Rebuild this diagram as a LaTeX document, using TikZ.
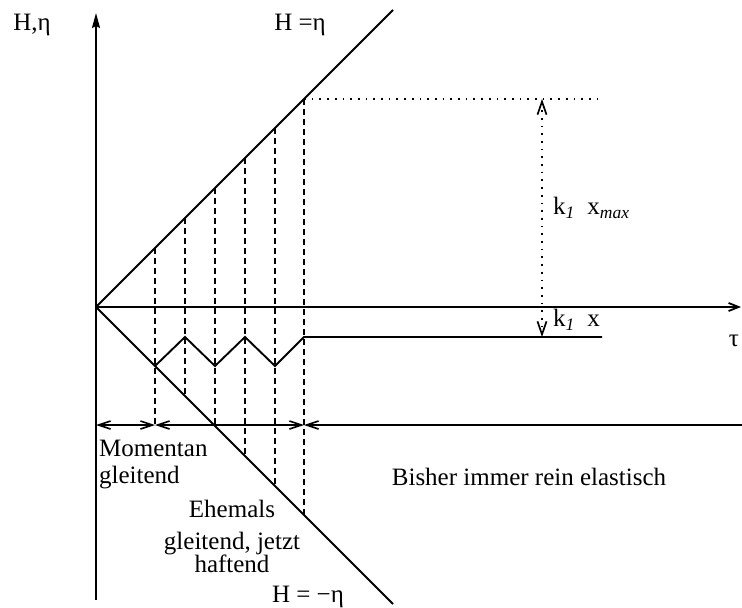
\documentclass[tikz,border=0pt]{standalone}
\usepackage{fontspec}
\setmainfont{Liberation Serif}
\usetikzlibrary{arrows.meta}
\tikzset{
  axis/.style={
    line width=1.8pt
  },
  limit/.style={
    line width=1.9pt
  },
  bound/.style={
    line width=1.7pt,
    dash pattern=on 6pt off 4pt
  },
  guide/.style={
    line width=1.7pt,
    dash pattern=on 1.7pt off 6pt
  },
  barb/.style={
    line width=1.6pt
  },
  txt/.style={
    font=\fontsize{25}{27}\selectfont,
    inner sep=0pt
  }
}

\begin{document}
\begin{tikzpicture}[x=1pt,y=1pt]
\useasboundingbox (-96,-301) rectangle (646,307);

\coordinate (O) at (0,0);
\coordinate (ytop) at (0,294);
\coordinate (ybot) at (0,-293);
\coordinate (xend) at (645,0);
\coordinate (up) at (297,297);
\coordinate (lo) at (297,-297);

% axes
\draw[axis] (ybot) -- (O);
\draw[axis,-{Stealth[length=15pt,width=8pt,inset=2pt]}] (O) -- (ytop);
\draw[axis,-{Straight Barb[length=10pt,width=8pt]}] (O) -- (xend);

% H = eta, H = -eta
\draw[limit] (O) -- (up);
\draw[limit] (O) -- (lo);

% switching instants
\draw[bound] (59,59) -- (59,-118);
\draw[bound] (89,89) -- (89,-89);
\draw[bound] (119,119) -- (119,-119);
\draw[bound] (149,149) -- (149,-149);
\draw[bound] (179,179) -- (179,-179);
\draw[bound] (208,208) -- (208,-208);

% hysteresis state
\coordinate (z0) at (59,-59);
\coordinate (z5) at (208,-30);
\coordinate (zend) at (506,-30);
\draw[limit] (z0) -- (89,-30) -- (119,-59) -- (149,-30) -- (179,-59) -- (z5) -- (zend);

% maximum
\coordinate (m0) at (208,208);
\coordinate (m1) at (501,208);
\coordinate (ktop) at (446,208);
\coordinate (kbot) at (446,-30);
\draw[guide] (m0) -- (m1);
\draw[guide,{Straight Barb[length=13pt,width=9pt]}-{Straight Barb[length=13pt,width=9pt]}] (ktop) -- (kbot);

% regions
\coordinate (d0) at (0,-118);
\coordinate (d1) at (59,-118);
\coordinate (d2) at (208,-118);
\coordinate (d3) at (646,-118);
\draw[barb,{Straight Barb[length=12pt,width=8pt]}-{Straight Barb[length=12pt,width=8pt]}] (d0) -- (d1);
\draw[barb,{Straight Barb[length=12pt,width=8pt]}-{Straight Barb[length=12pt,width=8pt]}] (d1) -- (d2);
\draw[barb,{Straight Barb[length=12pt,width=8pt]}-] (d2) -- (d3);

% labels
\node[txt] (yl) at (-64,282) {H,η};
\node[txt] (hp) at (204,282) {H =η};
\node[txt] (hm) at (212,-290) {H = −η};
\node[txt] (tau) at (638,-34) {τ};
\node[txt,anchor=west] (kmax) at (457,99) {k\textsubscript{\itshape 1}\ \ x\textsubscript{\itshape max}};
\node[txt,anchor=west] (kx) at (457,-13) {k\textsubscript{\itshape 1}\ \ x};
\node[txt,anchor=west,align=left] (mom) at (3,-158) {Momentan\\gleitend};
\node[txt,align=center] (ehe) at (136,-229) {Ehemals\\[5pt]gleitend, jetzt\\[-4pt]haftend};
\node[txt] (bis) at (433,-170) {Bisher immer rein elastisch};

\end{tikzpicture}
\end{document}
